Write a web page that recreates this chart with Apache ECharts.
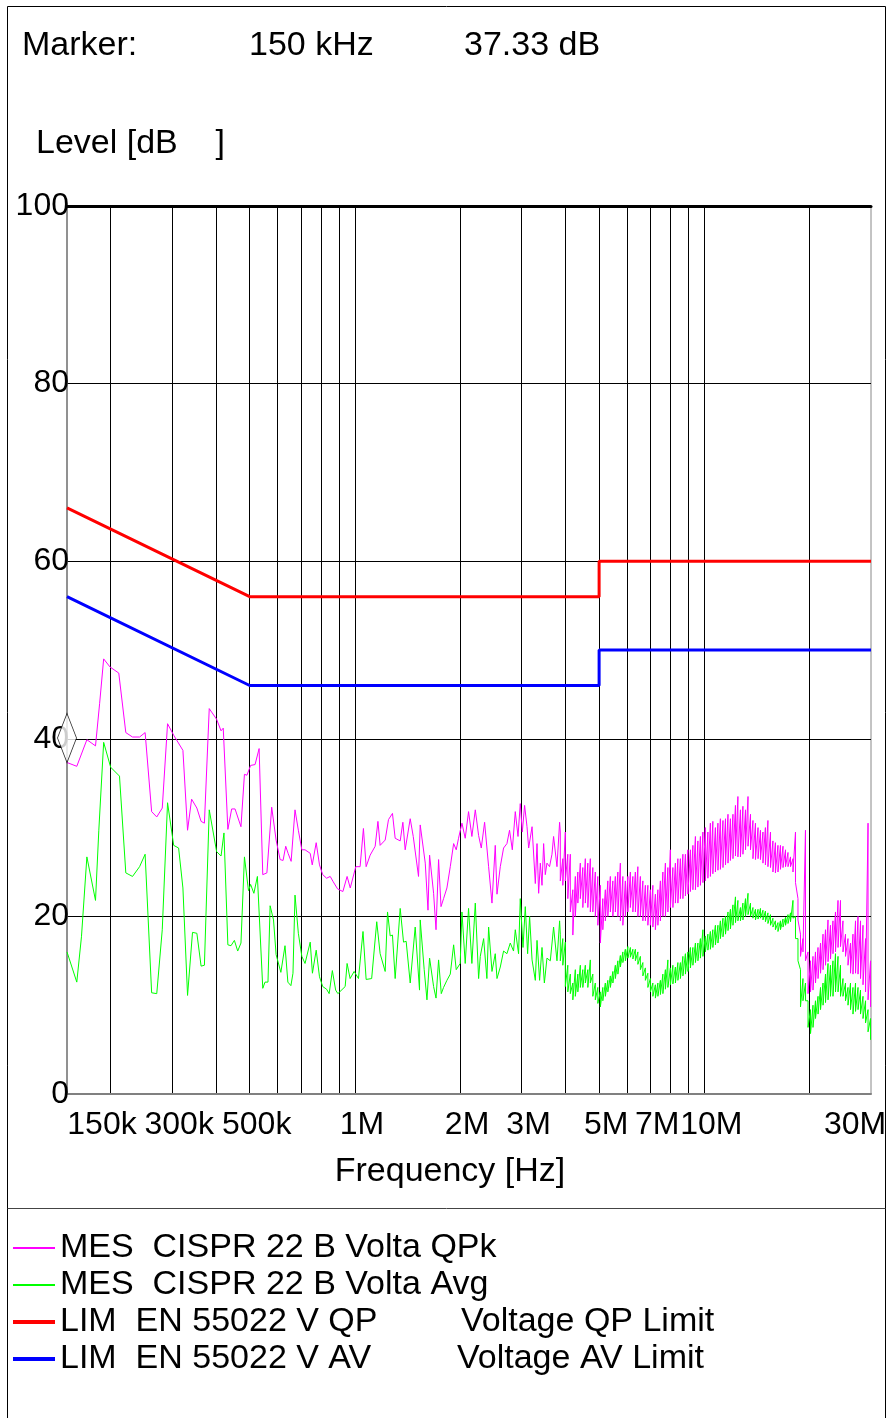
<!DOCTYPE html>
<html><head><meta charset="utf-8">
<script src="https://cdn.jsdelivr.net/npm/echarts@6.0.0/dist/echarts.min.js"></script>
<style>html,body{margin:0;padding:0;background:#fff}#chart{width:887px;height:1418px}</style>
</head><body><div id="chart"></div>
<script>
// ---------- axis ticks ----------
const gridFreqMHz = [0.2,0.3,0.4,0.5,0.6,0.7,0.8,0.9,1,2,3,4,5,6,7,8,9,10,20];
const tickFreqMHz = [0.15,0.3,0.5,1,2,3,5,7,10,30];
const tickText = ['150k','300k','500k','1M','2M','3M','5M','7M','10M','30M'];
const levelTicks = [0,20,40,60,80,100];

// ---------- QPk measurement (sparse part, MHz / dBuV) ----------
const qpkFreq = [0.150,0.160,0.171,0.181,0.186,0.191,0.199,0.211,0.221,0.231,
0.242,0.251,0.262,0.271,0.281,0.291,0.303,0.322,0.332,0.341,
0.353,0.363,0.371,0.383,0.402,0.414,0.420,0.433,0.444,0.454,
0.472,0.483,0.491,0.503,0.518,0.524,0.532,0.545,0.560,0.578,
0.584,0.595,0.611,0.623,0.634,0.644,0.657,0.674,0.689,0.705,
0.720,0.745,0.755,0.775,0.792,0.809,0.830,0.850,0.867,0.892,
0.924,0.950,0.970,1.006,1.035,1.058,1.077,1.106,1.143,1.164,
1.181,1.221,1.248,1.281,1.304,1.348,1.372,1.393,1.440,1.469,
1.521,1.538,1.590,1.619,1.636,1.680,1.707,1.736,1.764,1.794,
1.834,1.875,1.917,1.950,1.980,2.025,2.069,2.115,2.162,2.211,
2.260,2.300,2.351,2.414,2.468,2.522,2.551,2.607,2.664,2.724,
2.771,2.822,2.878,2.930,2.974,3.014,3.060,3.109,3.143,3.214,
3.284,3.321,3.357,3.394,3.432,3.469,3.507,3.546,3.607,3.665,
3.704,3.788,3.854];
const qpkLevel = [37.33,36.9,39.9,39.2,44.0,49.0,48.1,47.4,40.7,40.2,
40.2,40.7,31.8,31.2,32.2,41.7,40.4,38.7,29.7,33.2,
32.2,30.7,30.5,43.4,42.2,40.9,41.2,29.8,32.1,32.1,
30.1,36.0,35.9,37.0,37.1,36.9,38.9,24.7,24.9,32.3,
32.3,28.6,26.4,26.3,27.9,27.1,26.2,32.0,29.7,27.5,
27.5,27.1,25.8,28.3,25.8,24.7,24.3,24.5,23.9,23.1,
22.8,24.5,23.2,25.6,25.6,29.9,25.6,26.9,27.9,30.7,
28.0,28.6,30.9,31.6,28.8,28.5,30.6,27.5,31.0,29.0,
24.5,30.3,26.0,20.7,26.9,22.6,18.5,26.4,21.1,22.0,
23.2,25.6,28.2,27.5,28.8,30.5,28.8,31.8,29.0,32.0,
29.1,27.7,30.6,25.6,21.5,28.0,22.5,25.6,27.7,28.2,
29.7,27.5,31.8,29.0,32.7,29.5,32.5,30.1,27.7,30.1,
23.7,28.2,22.6,26.0,23.5,28.2,24.7,26.0,25.6,27.0,
29.0,25.6,30.6];

// ---------- Avg measurement (sparse part) ----------
const avgFreq = [0.150,0.160,0.165,0.171,0.181,0.185,0.191,0.200,0.212,0.221,
0.231,0.242,0.251,0.262,0.271,0.281,0.291,0.303,0.313,0.322,
0.332,0.343,0.353,0.363,0.371,0.383,0.402,0.414,0.422,0.433,
0.442,0.452,0.462,0.472,0.483,0.496,0.503,0.514,0.526,0.532,
0.545,0.553,0.564,0.572,0.585,0.595,0.614,0.631,0.643,0.656,
0.665,0.674,0.689,0.705,0.720,0.745,0.756,0.775,0.792,0.809,
0.830,0.844,0.862,0.881,0.894,0.938,0.950,0.969,0.995,1.024,
1.055,1.077,1.117,1.155,1.181,1.221,1.240,1.262,1.281,1.304,
1.348,1.378,1.402,1.440,1.488,1.531,1.538,1.579,1.608,1.636,
1.680,1.707,1.736,1.767,1.794,1.834,1.875,1.917,1.950,2.002,
2.025,2.069,2.115,2.162,2.211,2.260,2.285,2.336,2.387,2.414,
2.468,2.522,2.551,2.607,2.664,2.724,2.784,2.845,2.878,2.941,
2.974,3.028,3.074,3.122,3.163,3.214,3.284,3.321,3.378,3.432,
3.486,3.546,3.625,3.704,3.788,3.854];
const avgLevel = [16.0,12.6,17.7,26.7,21.8,29.7,39.6,36.8,35.8,24.9,
24.5,25.6,27.0,11.4,11.3,18.5,32.8,28.0,27.7,23.2,
11.1,18.2,18.1,14.4,14.5,32.0,27.3,26.8,29.4,16.8,
16.7,17.3,16.1,17.0,26.7,22.9,23.6,22.6,24.5,24.5,
11.9,12.6,12.6,21.2,19.6,15.7,13.7,16.7,12.6,12.2,
13.6,22.4,18.1,15.5,14.7,17.1,13.6,16.2,13.2,12.1,
11.8,11.3,13.9,11.7,11.3,12.1,14.7,13.0,13.8,13.0,
18.3,12.9,13.0,19.4,15.8,13.8,20.5,17.8,17.9,13.0,
20.9,17.1,17.2,12.5,18.8,11.7,19.6,14.0,10.6,15.3,
12.1,10.8,15.1,11.3,12.0,12.8,13.5,16.8,14.0,14.7,
20.5,14.7,20.9,14.7,21.5,13.0,15.5,17.5,13.0,18.8,
13.8,15.8,13.0,14.3,16.1,15.8,17.0,16.1,18.5,15.8,
22.0,16.5,21.1,15.8,20.0,15.1,12.8,17.3,12.8,16.5,
12.5,15.3,15.0,18.8,15.0,19.5];

// ---------- dense sweep part (3.9 - 30 MHz): envelope high / low per step ----------
const denseFreq = [3.872,3.936,4.002,4.068,4.136,4.205,4.275,4.346,4.418,4.491,4.566,4.642,4.719,4.797,4.877,4.958,5.041,
5.124,5.210,5.296,5.385,5.474,5.565,5.658,5.752,5.847,5.944,6.043,6.144,6.246,6.350,6.455,6.562,6.671,6.782,6.895,7.010,7.126,7.245,7.365,7.488,
7.612,7.739,7.867,7.998,8.131,8.266,8.403,8.543,8.685,8.830,8.976,9.126,9.277,9.432,9.589,9.748,
9.910,10.07,10.24,10.41,10.58,10.76,10.94,11.12,11.31,11.50,11.69,11.88,12.08,12.28,12.48,12.69,12.90,13.12,13.34,13.56,13.78,14.01,14.25,14.48,
14.72,14.96,15.21,15.47,15.72,15.98,16.25,16.52,16.80,17.08,17.36,17.65,17.94,
18.24,18.54,18.85,19.16,19.48,19.81,20.14,20.47,20.81,21.16,21.51,21.87,22.23,22.60,22.97,23.35,23.74,24.14,24.54,24.94,25.36,25.78,26.21,26.64,27.09,27.54,28.00,28.46,28.94,29.42,29.91];
const qpkHi = [29.5,26.5,29.5,27.0,27.0,23.0,24.5,25.0,26.0,25.5,26.5,26.0,26.5,25.5,25.0,24.5,23.5,
22.0,23.0,24.0,24.5,24.0,24.5,25.0,26.0,24.5,24.0,24.5,25.0,24.5,25.0,25.6,24.5,24.0,23.5,23.5,23.0,23.5,22.5,23.0,24.0,
25.0,26.0,25.5,27.5,25.5,26.0,26.5,26.5,27.0,27.0,27.5,27.5,28.0,29.0,28.5,29.0,
29.5,30.0,29.5,30.5,30.7,30.0,30.5,31.0,30.8,31.0,31.5,31.0,31.5,32.5,33.5,32.0,32.4,32.0,33.5,31.5,30.8,30.5,30.0,29.7,
29.5,30.0,30.8,29.5,28.5,28.3,28.0,28.0,27.9,27.5,27.2,26.7,26.5,
29.5,22.0,18.0,17.5,29.7,16.0,15.0,15.5,16.0,16.5,17.0,18.0,18.5,19.6,19.0,19.5,20.5,21.8,21.8,19.5,18.0,17.5,17.0,18.0,19.5,20.0,19.5,19.0,17.5,30.5,15.0];
const qpkLo = [24.0,23.5,24.0,22.0,20.5,17.9,20.0,21.5,22.0,21.0,21.5,21.0,20.5,20.5,20.0,19.0,17.0,
18.5,19.5,20.0,20.5,20.0,20.5,20.0,19.5,19.0,20.0,20.5,21.0,20.5,20.5,20.0,20.0,19.5,19.5,19.0,19.0,18.8,18.5,19.0,19.5,
20.0,20.0,20.5,21.0,21.0,21.5,21.5,22.0,22.0,22.3,22.5,22.8,23.0,23.0,23.3,23.5,
23.8,24.0,24.3,24.5,24.8,25.0,25.2,25.3,25.5,25.8,26.0,26.3,26.5,26.8,26.7,26.7,27.0,27.5,27.9,27.5,26.5,26.4,26.5,26.4,
26.0,25.8,25.6,25.5,25.0,24.9,25.0,25.3,25.5,25.6,25.6,25.6,25.0,
23.8,19.6,15.5,16.0,15.0,11.3,11.5,11.7,12.5,13.0,13.6,14.0,14.5,14.9,15.2,15.8,16.0,16.5,16.6,16.0,15.5,14.5,13.6,13.5,13.6,13.5,13.0,12.3,11.5,10.6,9.8];
const avgHi = [18.0,17.5,17.1,14.5,13.5,12.5,14.0,13.5,14.5,14.0,14.5,14.0,15.1,13.5,12.5,12.0,11.5,
12.0,12.5,12.8,13.3,13.8,14.5,15.0,15.6,16.0,16.3,16.6,16.5,16.3,16.3,16.0,15.5,14.8,14.2,13.6,13.0,12.5,12.3,12.5,12.8,
13.5,14.0,15.1,14.2,14.5,14.3,14.8,14.8,15.5,15.8,16.0,16.5,16.5,17.0,17.0,17.5,
18.5,17.8,18.0,18.3,18.5,19.0,19.0,19.5,19.8,20.0,20.5,20.8,21.3,22.2,21.8,21.0,21.5,22.0,22.6,21.5,21.0,20.8,20.8,20.9,
20.7,20.6,20.4,20.2,19.8,19.5,19.3,19.5,19.7,19.9,20.2,20.4,21.8,
20.0,17.5,14.0,13.0,12.5,10.5,9.5,10.0,10.5,11.0,12.0,12.5,13.5,14.7,14.5,15.0,15.8,15.5,14.5,13.0,12.5,12.0,12.5,12.0,12.5,12.0,11.7,11.0,10.5,9.5,8.5];
const avgLo = [15.0,14.5,12.1,11.5,11.3,10.6,11.0,11.5,12.0,12.0,12.5,12.0,12.5,11.0,10.6,10.2,9.8,
10.5,11.0,11.5,12.0,12.5,13.0,13.5,14.3,14.8,15.0,15.3,15.4,15.2,15.0,14.6,14.0,13.3,12.8,12.0,11.5,11.0,10.8,11.0,11.2,
11.3,11.8,12.0,12.3,12.4,12.5,12.8,13.0,13.3,13.5,13.8,14.2,14.5,14.8,15.0,15.3,
15.5,16.0,16.2,16.3,16.5,16.8,17.0,17.5,17.7,18.0,18.4,18.6,19.0,19.3,19.5,19.5,19.6,20.0,20.2,20.0,19.8,19.6,19.7,19.8,
19.6,19.4,19.2,19.0,18.8,18.5,18.3,18.5,18.8,19.0,19.2,19.4,19.8,
17.5,15.0,9.8,10.5,10.5,7.5,6.8,7.5,8.5,9.0,9.5,10.0,10.3,10.6,11.0,11.0,11.5,11.5,11.0,11.0,10.5,10.0,9.5,9.0,9.3,9.5,9.0,8.5,8.0,7.0,6.1];

// ---------- limits ----------
const qpLimitFreq = [0.15,0.5,5,5,30];
const qpLimitLevel = [66,56,56,60,60];
const avLimitFreq = [0.15,0.5,5,5,30];
const avLimitLevel = [56,46,46,50,50];

// ---------- marker ----------
const markerFreq = [0.15];
const markerLevel = [37.33];

const seriesNames = ['MES  CISPR 22 B Volta QPk','MES  CISPR 22 B Volta Avg','LIM  EN 55022 V QP','LIM  EN 55022 V AV'];

const lg = Math.log10;
const F = "'Liberation Sans', Arial, Helvetica, sans-serif";
function pairs(f, v) { return f.map((x, i) => [lg(x), v[i]]); }
function band(f, hi, lo) { const o = []; f.forEach((x, i) => { o.push([lg(x), hi[i]]); o.push([lg(x), lo[i]]); }); return o; }
function tickIndex(v) { let b = 0, d = 1e9; tickFreqMHz.forEach((f, i) => { const e = Math.abs(lg(f) - v); if (e < d) { d = e; b = i; } }); return b; }

const thinIcon = 'path://M0,0h42v2h-42z';
const thickIcon = 'path://M0,0h42v4h-42z';
const xMin = lg(0.15), xMax = lg(30);
const chart = echarts.init(document.getElementById('chart'), null, { renderer: 'canvas' });
chart.setOption({
  animation: false,
  backgroundColor: '#fff',
  textStyle: { fontFamily: F, color: '#000' },
  grid: { left: 67, right: 16, top: 206, bottom: 324, containLabel: false, outerBoundsMode: 'none',
          show: true, borderColor: '#888', borderWidth: 1, backgroundColor: 'transparent' },
  xAxis: [{
    type: 'value', min: xMin, max: xMax,
    axisLine: { show: true, onZero: false, lineStyle: { color: '#808080', width: 2 } },
    axisTick: { show: false, customValues: gridFreqMHz.map(lg) },
    splitLine: { show: true, lineStyle: { color: '#000', width: 1 } },
    axisLabel: {
      customValues: tickFreqMHz.map(lg), margin: 15, color: '#000', fontSize: 32, fontFamily: F,
      formatter: v => { const i = tickIndex(v); const k = i === 0 ? 's' : (i === tickText.length - 1 ? 'e' : 'm'); return '{' + k + '|' + tickText[i] + '}'; },
      rich: {
        s: { fontSize: 32, fontFamily: F, color: '#000', padding: [0, 0, 0, 70] },
        m: { fontSize: 32, fontFamily: F, color: '#000', padding: [0, 0, 0, 14] },
        e: { fontSize: 32, fontFamily: F, color: '#000', padding: [0, 32, 0, 0] }
      }
    },
    name: 'Frequency [Hz]', nameLocation: 'middle', nameGap: 61,
    nameTextStyle: { fontSize: 34, fontFamily: F, color: '#000', padding: [0, 38, 0, 0] }
  }, {
    type: 'value', min: xMin, max: xMax, position: 'top',
    axisLine: { show: true, onZero: false, lineStyle: { color: '#000', width: 3 } },
    axisTick: { show: false }, axisLabel: { show: false }, splitLine: { show: false }
  }],
  yAxis: {
    type: 'value', min: levelTicks[0], max: levelTicks[levelTicks.length - 1], interval: 20,
    axisLine: { show: true, onZero: false, lineStyle: { color: '#808080', width: 1.5 } },
    axisTick: { show: false },
    splitLine: { show: true, lineStyle: { color: '#000', width: 1 } },
    axisLabel: { margin: -2, color: '#000', fontSize: 32, fontFamily: F }
  },
  legend: {
    orient: 'vertical', left: 13, top: 1231, padding: 0, itemWidth: 42, itemHeight: 14, itemGap: 3,
    data: [
      { name: seriesNames[0], icon: thinIcon },
      { name: seriesNames[1], icon: thinIcon },
      { name: seriesNames[2], icon: thickIcon },
      { name: seriesNames[3], icon: thickIcon }
    ],
    textStyle: { fontSize: 34, lineHeight: 34, fontFamily: F, color: '#000',
      rich: {
        c: { fontSize: 34, lineHeight: 34, fontFamily: F, color: '#000' },
        a1: { fontSize: 34, lineHeight: 34, fontFamily: F, color: '#000', width: 401 },
        a2: { fontSize: 34, lineHeight: 34, fontFamily: F, color: '#000', width: 397 },
        b: { fontSize: 34, lineHeight: 34, fontFamily: F, color: '#000' }
      } },
    formatter: name => {
      if (name === seriesNames[2]) return '{a1|' + name + '}{b|Voltage QP Limit}';
      if (name === seriesNames[3]) return '{a2|' + name + '}{b|Voltage AV Limit}';
      return '{c|' + name + '}';
    }
  },
  graphic: [
    { type: 'rect', shape: { x: 7.5, y: 6.5, width: 878, height: 1430 }, style: { fill: 'none', stroke: '#000', lineWidth: 1 }, silent: true },
    { type: 'line', shape: { x1: 7.5, y1: 1208.5, x2: 885.5, y2: 1208.5 }, style: { stroke: '#444', lineWidth: 1 }, silent: true },
    { type: 'text', x: 22, y: 46, style: { text: 'Marker:', fontSize: 34, fontFamily: F, fill: '#000', verticalAlign: 'middle' } },
    { type: 'text', x: 249, y: 46, style: { text: '150 kHz', fontSize: 34, fontFamily: F, fill: '#000', verticalAlign: 'middle' } },
    { type: 'text', x: 464, y: 46, style: { text: '37.33 dB', fontSize: 34, fontFamily: F, fill: '#000', verticalAlign: 'middle' } },
    { type: 'text', x: 36, y: 144, style: { text: 'Level [dB    ]', fontSize: 34, fontFamily: F, fill: '#000', verticalAlign: 'middle' } }
  ],
  series: [
    { name: seriesNames[0], type: 'line', symbol: 'none', color: '#ff00ff',
      lineStyle: { color: '#ff00ff', width: 1 }, data: pairs(qpkFreq, qpkLevel).concat(band(denseFreq, qpkHi, qpkLo)), z: 3 },
    { name: seriesNames[1], type: 'line', symbol: 'none', color: '#00ff00',
      lineStyle: { color: '#00ff00', width: 1 }, data: pairs(avgFreq, avgLevel).concat(band(denseFreq, avgHi, avgLo)), z: 4 },
    { name: seriesNames[2], type: 'line', symbol: 'none', color: '#ff0000',
      lineStyle: { color: '#ff0000', width: 3 }, data: pairs(qpLimitFreq, qpLimitLevel), z: 5 },
    { name: seriesNames[3], type: 'line', symbol: 'none', color: '#0000ff',
      lineStyle: { color: '#0000ff', width: 3 }, data: pairs(avLimitFreq, avLimitLevel), z: 5 },
    { name: 'Marker', type: 'scatter', clip: false, symbol: 'diamond', symbolSize: [19, 49], symbolOffset: [0, -24.5],
      itemStyle: { color: '#fff', borderColor: '#000', borderWidth: 1 }, data: pairs(markerFreq, markerLevel), z: 6, silent: true }
  ]
});
</script></body></html>
